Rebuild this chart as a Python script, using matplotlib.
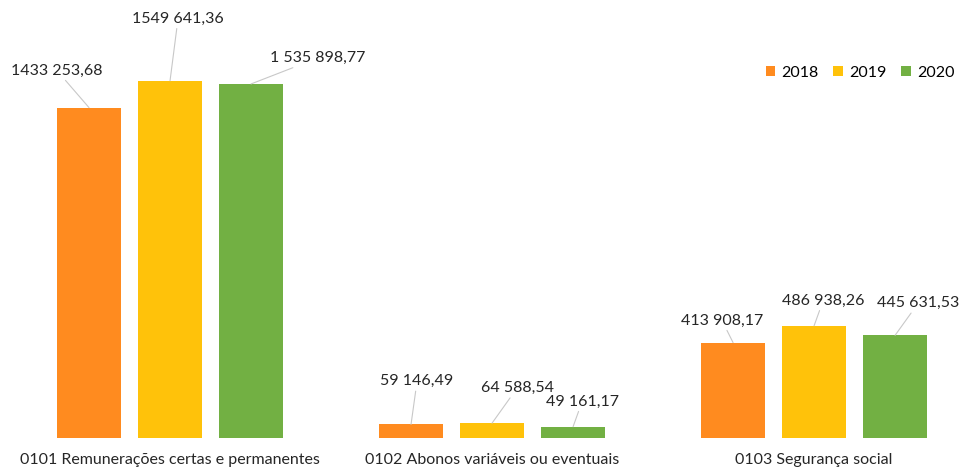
import numpy as np
import matplotlib
matplotlib.use("Agg")
import matplotlib.pyplot as plt
from matplotlib.patches import Patch

plt.rcParams['font.family'] = ['Lato', 'DejaVu Sans']

categories = ['0101 Remunerações certas e permanentes',
              '0102 Abonos variáveis ou eventuais',
              '0103 Segurança social']
years = ['2018', '2019', '2020']
# values as printed on the chart (pt-PT formatting)
lbl2018 = ['1433 253,68', '59 146,49', '413 908,17']
lbl2019 = ['1549 641,36', '64 588,54', '486 938,26']
lbl2020 = ['1 535 898,77', '49 161,17', '445 631,53']

colors = ['#FF8B1F', '#FFC20A', '#72B043']

# label offsets from bar top, in pixels (dx, dy), per year then per category
offsets = [
    [(-32, 37), (6, 43), (-11, 22)],
    [(8, 62), (25, 35), (9, 25)],
    [(67, 26), (9, 25), (23, 32)],
]


def to_num(s):
    return float(s.replace(' ', '').replace(',', '.'))


fig = plt.figure(figsize=(9.59, 4.72), dpi=100)
ax = fig.add_axes([0, 0.072, 1, 0.928])

x = np.arange(len(categories))
width = 0.2
step = 0.2516
labels = [lbl2018, lbl2019, lbl2020]
for i, (lbls, col, yr) in enumerate(zip(labels, colors, years)):
    vals = [to_num(s) for s in lbls]
    xs = x + (i - 1) * step
    ax.bar(xs, vals, width=width, color=col, label=yr)
    for j, (xx, v, s) in enumerate(zip(xs, vals, lbls)):
        dx, dy = offsets[i][j]
        ax.annotate(s, xy=(xx, v), xytext=(dx, dy),
                    textcoords='offset pixels', ha='center', va='center',
                    fontsize=11.5, color='#262626',
                    arrowprops=dict(arrowstyle='-', color='#c8c8c8',
                                    lw=0.8, shrinkA=0, shrinkB=0))

ax.set_xlim(-0.528, 2.45)
ax.set_ylim(0, 1.9e6)
ax.set_xticks(x)
ax.set_xticklabels(categories, fontsize=11.5, color='#262626')
ax.tick_params(axis='x', length=0, pad=11)
ax.set_yticks([])
for sp in ax.spines.values():
    sp.set_visible(False)

handles = [Patch(facecolor=c, label=y) for c, y in zip(colors, years)]
ax.legend(handles=handles, loc='center', bbox_to_anchor=(860 / 959, 1 - 73 / 438),
          ncol=3, frameon=False, fontsize=11.5, handlelength=0.6,
          handleheight=0.6, handletextpad=0.4, columnspacing=0.9,
          borderpad=0.2)

fig.savefig('out.png', dpi=100)
